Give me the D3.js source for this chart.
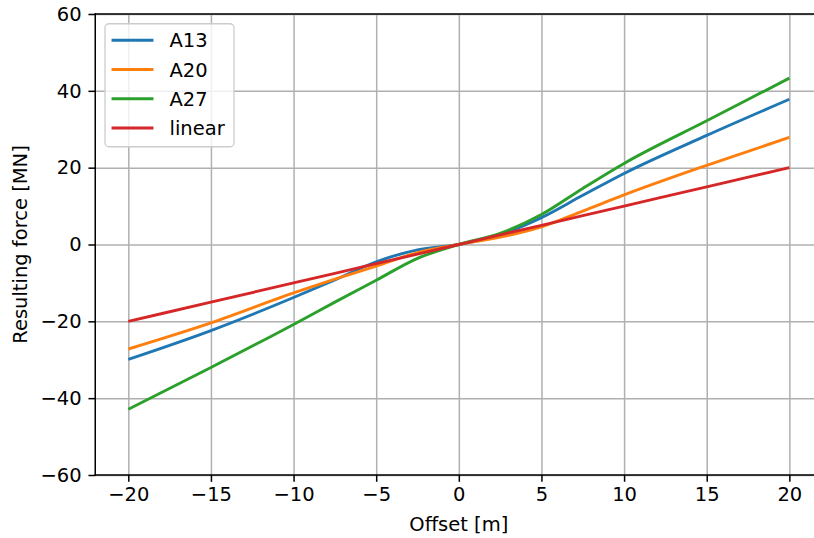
<!DOCTYPE html>
<html lang="en">
<head>
    <meta charset="UTF-8">
    <title>Resulting force vs offset</title>
    <script src="https://d3js.org/d3.v7.min.js"></script>
    <style>
        body { margin: 0; background: #fff; }
        text { font-family: "DejaVu Sans", sans-serif; fill: #000; }
    </style>
</head>
<body>
<svg id="chart" width="814" height="538"></svg>
<script>
// Offset [m] at which each curve is sampled
const offsets = [-20, -15, -10, -7.5, -5, -2.5, 0, 2.5, 5, 7.5, 10, 15, 20];

// Resulting force [MN] per configuration
const a13    = [-29.9, -22.4, -13.8, -9.2, -4.5, -1.4, 0, 2.6, 7.0, 12.8, 18.5, 28.4, 37.8];
const a20    = [-27.2, -20.4, -12.6, -9.0, -5.6, -2.1, 0, 1.9, 4.6, 8.7, 12.9, 20.6, 27.9];
const a27    = [-42.9, -32.0, -20.8, -15.0, -9.3, -3.6, 0, 2.9, 7.8, 14.6, 21.1, 32.2, 43.3];
const linear = [-20, -15, -10, -7.5, -5, -2.5, 0, 2.5, 5, 7.5, 10, 15, 20];

const seriesNames = ['A13', 'A20', 'A27', 'linear'];
const seriesValues = [a13, a20, a27, linear];
const seriesColors = ['#1f77b4', '#ff7f0e', '#2ca02c', '#d62728'];

const xTicks = [-20, -15, -10, -5, 0, 5, 10, 15, 20];
const yTicks = [-60, -40, -20, 0, 20, 40, 60];

const svgWidth = 814;
const svgHeight = 538;
const margin = { top: 14, left: 95.25 };
const width = 727.15;
const height = 461;
const fontSize = 19.5;

const svg = d3.select('#chart');

const xScale = d3.scaleLinear().domain([-22, 22]).range([0, width]);
const yScale = d3.scaleLinear().domain([-60, 60]).range([height, 0]);

const g = svg.append('g')
    .attr('transform', `translate(${margin.left},${margin.top})`);

g.append('clipPath').attr('id', 'plot-clip')
    .append('rect')
    .attr('width', width)
    .attr('height', height);

// Grid lines
const gridX = g.append('g')
    .attr('transform', `translate(0,${height})`)
    .call(d3.axisBottom(xScale).tickValues(xTicks).tickSize(-height).tickFormat(''));
const gridY = g.append('g')
    .call(d3.axisLeft(yScale).tickValues(yTicks).tickSize(-width).tickFormat(''));
[gridX, gridY].forEach(grid => {
    grid.select('.domain').remove();
    grid.selectAll('line').attr('stroke', '#b0b0b0').attr('stroke-width', 1.5);
});

// Data lines
const line = d3.line()
    .x((d, i) => xScale(offsets[i]))
    .y(d => yScale(d))
    .curve(d3.curveMonotoneX);

g.append('g')
    .attr('clip-path', 'url(#plot-clip)')
    .selectAll('path')
    .data(seriesValues)
    .enter()
    .append('path')
    .attr('d', line)
    .attr('fill', 'none')
    .attr('stroke', (d, i) => seriesColors[i])
    .attr('stroke-width', 2.9)
    .attr('stroke-linejoin', 'round');

// Axes
const xAxis = g.append('g')
    .attr('transform', `translate(0,${height})`)
    .call(d3.axisBottom(xScale).tickValues(xTicks).tickSize(6.8).tickPadding(5).tickSizeOuter(0));
const yAxis = g.append('g')
    .call(d3.axisLeft(yScale).tickValues(yTicks).tickSize(6.8).tickPadding(6.8).tickSizeOuter(0));
[xAxis, yAxis].forEach(ax => {
    ax.select('.domain').remove();
    ax.selectAll('line').attr('stroke', '#000').attr('stroke-width', 1.5);
    ax.selectAll('text')
        .attr('font-size', fontSize)
        .attr('font-family', '"DejaVu Sans", sans-serif')
        .attr('fill', '#000');
});

// Spines (right one falls outside the visible area)
const spines = [
    [0, 0, 0, height],
    [0, height, width, height],
    [0, 0, width, 0],
    [width, 0, width, height]
];
g.selectAll('.spine')
    .data(spines)
    .enter()
    .append('line')
    .attr('class', 'spine')
    .attr('x1', d => d[0]).attr('y1', d => d[1])
    .attr('x2', d => d[2]).attr('y2', d => d[3])
    .attr('stroke', '#000')
    .attr('stroke-width', 1.5)
    .attr('stroke-linecap', 'square');

// Axis labels
svg.append('text')
    .attr('x', margin.left + xScale(0))
    .attr('y', 531)
    .attr('text-anchor', 'middle')
    .attr('font-size', fontSize)
    .text('Offset [m]');

svg.append('text')
    .attr('transform', `translate(27,${margin.top + yScale(0)}) rotate(-90)`)
    .attr('text-anchor', 'middle')
    .attr('font-size', fontSize)
    .text('Resulting force [MN]');

// Legend
const legend = g.append('g')
    .attr('transform', `translate(${0.5 * fontSize},${0.5 * fontSize})`);

legend.append('rect')
    .attr('width', 129)
    .attr('height', 123)
    .attr('rx', 4)
    .attr('fill', '#fff')
    .attr('fill-opacity', 0.8)
    .attr('stroke', '#cccccc')
    .attr('stroke-width', 1.3);

const rows = legend.selectAll('.legend-row')
    .data(seriesNames)
    .enter()
    .append('g')
    .attr('class', 'legend-row')
    .attr('transform', (d, i) => `translate(0,${16.5 + i * 29.25})`);

rows.append('line')
    .attr('x1', 8).attr('x2', 47)
    .attr('stroke', (d, i) => seriesColors[i])
    .attr('stroke-width', 2.9)
    .attr('stroke-linecap', 'square');

rows.append('text')
    .attr('x', 64.5)
    .attr('dy', '0.36em')
    .attr('font-size', fontSize)
    .text(d => d);
</script>
</body>
</html>
